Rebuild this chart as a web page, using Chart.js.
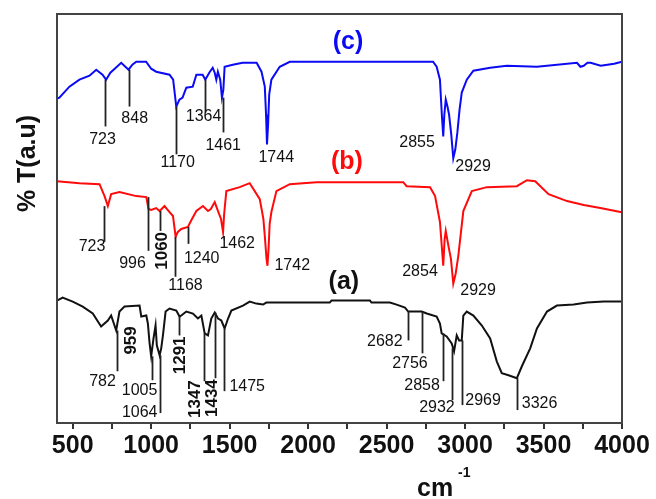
<!DOCTYPE html>
<html>
<head>
    <title>FTIR spectra (a), (b), (c)</title>
    <script src="https://cdn.jsdelivr.net/npm/chart.js"></script>
    <style>
        body { margin: 0; background: #fff; }
    </style>
</head>
<body>
    <canvas id="myChart" width="656" height="499"></canvas>

    <script>
        // spectrum (c), blue - wavenumber (cm-1) and transmittance (a.u.)
        const wnC = [400, 415, 479, 543, 607, 650, 690, 713, 740, 809, 856, 880, 905, 968, 1000, 1032, 1117, 1140, 1160, 1180, 1200, 1224, 1265, 1288, 1328, 1345, 1370, 1392, 1405, 1415, 1425, 1440, 1451, 1460, 1468, 1520, 1583, 1672, 1703, 1724, 1732, 1738, 1745, 1752, 1766, 1819, 1883, 2796, 2819, 2840, 2852, 2861, 2868, 2877, 2888, 2898, 2912, 2925, 2938, 2951, 2965, 2979, 3011, 3053, 3160, 3266, 3458, 3713, 3735, 3756, 3780, 3800, 3864, 3907, 3950, 4000];
        const tC = [326, 327, 338, 345, 349, 355, 350, 345, 352, 362, 355, 360, 363, 363, 356, 353, 350, 345, 318, 325, 327, 337, 338, 350, 350, 345, 352, 357, 352, 345, 353, 345, 327, 335, 358, 360, 362, 362, 353, 338, 310, 280, 300, 330, 345, 358, 363, 363, 358, 345, 310, 288, 310, 325, 318, 310, 290, 266, 275, 292, 315, 332, 345, 354, 357, 359, 358, 362, 358, 359, 362, 362, 359, 360, 361, 363];

        // spectrum (b), red
        const wnB = [400, 543, 671, 703, 724, 745, 798, 905, 969, 983, 1000, 1032, 1054, 1085, 1117, 1139, 1156, 1170, 1192, 1234, 1260, 1288, 1330, 1362, 1380, 1405, 1426, 1445, 1458, 1465, 1479, 1564, 1628, 1692, 1715, 1724, 1735, 1741, 1748, 1755, 1766, 1798, 1883, 2054, 2606, 2628, 2777, 2809, 2840, 2861, 2870, 2877, 2894, 2910, 2925, 2940, 2957, 2989, 3043, 3139, 3330, 3394, 3447, 3532, 3650, 3756, 3862, 3990, 4000];
        const tB = [243, 241, 240, 228, 218, 230, 232, 228, 227, 215, 214, 216, 213, 218, 212, 208, 187, 192, 195, 197, 205, 213, 218, 213, 215, 222, 213, 205, 192, 210, 233, 237, 241, 225, 205, 188, 165, 158, 175, 200, 212, 233, 240, 242, 242, 238, 237, 228, 202, 158, 185, 193, 178, 165, 140, 150, 168, 213, 233, 237, 238, 244, 243, 230, 223, 219, 216, 212, 212];

        // spectrum (a), black
        const wnA = [400, 436, 500, 564, 628, 681, 724, 745, 777, 798, 830, 926, 937, 969, 979, 990, 1000, 1015, 1028, 1036, 1054, 1064, 1075, 1092, 1117, 1160, 1181, 1192, 1224, 1266, 1298, 1320, 1341, 1362, 1383, 1405, 1426, 1447, 1468, 1490, 1511, 1585, 1628, 1670, 1713, 1734, 2138, 2149, 2394, 2404, 2521, 2564, 2617, 2638, 2681, 2724, 2756, 2819, 2840, 2851, 2883, 2915, 2930, 2947, 2962, 2979, 2989, 3011, 3053, 3107, 3160, 3202, 3234, 3277, 3330, 3362, 3415, 3458, 3522, 3585, 3692, 3777, 3884, 3990, 4000];
        const tA = [123, 126, 122, 117, 110, 97, 103, 108, 93, 112, 117, 118, 107, 108, 100, 80, 67, 85, 98, 78, 68, 75, 88, 112, 115, 113, 107, 108, 112, 110, 105, 108, 90, 88, 105, 111, 105, 103, 95, 105, 113, 118, 122, 120, 119, 121, 121, 123, 123, 121, 121, 119, 116, 112, 112, 112, 110, 107, 100, 90, 87, 80, 72, 88, 83, 83, 108, 112, 108, 98, 85, 62, 50, 48, 45, 57, 75, 95, 112, 118, 119, 121, 122, 122, 122];

        // peak marker lines: wavenumber, top and bottom of the line (a.u.)
        const markWn  = [709, 856, 1156, 1345, 1458,   698, 983, 1054, 1154, 1234,   784, 1004, 1054, 1175, 1334, 1409, 1462, 2638, 2724, 2858, 2919, 2979, 3334];
        const markTop = [345, 355, 318, 345, 327,   218, 227, 213, 187, 197,   93, 67, 68, 107, 90, 111, 95, 112, 112, 90, 75, 83, 45];
        const markEnd = [298, 318, 270, 312, 292,   182, 173, 193, 147, 180,   52, 43, 10, 88, 42, 45, 32, 83, 70, 42, 23, 18, 13];

        // peak labels: text, wavenumber and height (a.u.) of the label centre, vertical or not
        const peakText = ['723', '848', '1170', '1364', '1461', '1744', '2855', '2929',
                          '723', '996', '1060', '1168', '1240', '1462', '1742', '2854', '2929',
                          '782', '959', '1005', '1064', '1291', '1347', '1434', '1475', '2682', '2756', '2858', '2932', '2969', '3326'];
        const peakWn = [690, 895, 1169, 1334, 1459, 1797, 2694, 3051,
                        623, 881, 1073, 1219, 1322, 1548, 1899, 2713, 3083,
                        690, 876, 926, 927, 1188, 1283, 1392, 1612, 2489, 2649, 2726, 2821, 3115, 3475];
        const peakT = [285, 306, 262, 308, 279, 267, 282, 258,
                       177, 160, 173, 138, 165, 180, 158, 152, 133,
                       42, 83, 33, 10, 68, 24, 25, 37, 82, 60, 38, 15, 23, 20];
        const peakVert = [0, 0, 0, 0, 0, 0, 0, 0,
                          0, 0, 1, 0, 0, 0, 0, 0, 0,
                          0, 1, 0, 0, 1, 1, 1, 0, 0, 0, 0, 0, 0, 0];

        // curve names
        const seriesName = ['(c)', '(b)', '(a)'];
        const seriesColor = ['#0a0af5', '#ff0a0a', '#111111'];
        const seriesWn = [2254, 2247, 2228];
        const seriesT = [383, 262, 142];

        const xTicks = [500, 1000, 1500, 2000, 2500, 3000, 3500, 4000];

        function pts(wn, t) {
            return wn.map((x, i) => ({ x: x, y: t[i] }));
        }

        const FONT = '"Liberation Sans", Arial, sans-serif';

        const decor = {
            id: 'decor',
            afterDatasetsDraw(chart) {
                const ctx = chart.ctx;
                const a = chart.chartArea;
                const xs = chart.scales.x;
                const ys = chart.scales.y;
                ctx.save();

                // frame
                ctx.strokeStyle = '#444';
                ctx.lineWidth = 2;
                ctx.strokeRect(a.left, a.top, a.right - a.left, a.bottom - a.top);

                // marker lines
                ctx.strokeStyle = '#222';
                ctx.lineWidth = 1.8;
                markWn.forEach((w, i) => {
                    const px = Math.round(xs.getPixelForValue(w)) + 0.5;
                    ctx.beginPath();
                    ctx.moveTo(px, ys.getPixelForValue(markTop[i]));
                    ctx.lineTo(px, ys.getPixelForValue(markEnd[i]));
                    ctx.stroke();
                });

                // peak labels
                ctx.fillStyle = '#111';
                ctx.textAlign = 'center';
                ctx.textBaseline = 'middle';
                peakText.forEach((txt, i) => {
                    const px = xs.getPixelForValue(peakWn[i]);
                    const py = ys.getPixelForValue(peakT[i]);
                    if (peakVert[i]) {
                        ctx.save();
                        ctx.translate(px, py);
                        ctx.rotate(-Math.PI / 2);
                        ctx.font = 'bold 17px ' + FONT;
                        ctx.fillText(txt, 0, 0);
                        ctx.restore();
                    } else {
                        ctx.font = '16px ' + FONT;
                        ctx.fillText(txt, px, py);
                    }
                });

                // series names
                ctx.font = 'bold 25px ' + FONT;
                seriesName.forEach((s, i) => {
                    ctx.fillStyle = seriesColor[i];
                    ctx.fillText(s, xs.getPixelForValue(seriesWn[i]), ys.getPixelForValue(seriesT[i]));
                });

                // axis titles
                ctx.fillStyle = '#111';
                ctx.save();
                ctx.translate(28, (a.top + a.bottom) / 2 - 55);
                ctx.rotate(-Math.PI / 2);
                ctx.font = 'bold 25px ' + FONT;
                ctx.fillText('% T(a.u)', 0, 0);
                ctx.restore();

                ctx.textAlign = 'left';
                ctx.textBaseline = 'alphabetic';
                ctx.font = 'bold 25px ' + FONT;
                ctx.fillText('cm', 417, 496);
                ctx.font = 'bold 14px ' + FONT;
                ctx.fillText('-1', 458, 477);

                ctx.restore();
            }
        };

        document.addEventListener('DOMContentLoaded', function () {
            const ctx = document.getElementById('myChart').getContext('2d');
            const line = (label, data, color) => ({
                label: label,
                data: data,
                borderColor: color,
                borderWidth: 2,
                pointRadius: 0,
                showLine: true,
                tension: 0,
                fill: false
            });
            new Chart(ctx, {
                type: 'scatter',
                data: {
                    datasets: [
                        line('(c)', pts(wnC, tC), seriesColor[0]),
                        line('(b)', pts(wnB, tB), seriesColor[1]),
                        line('(a)', pts(wnA, tA), seriesColor[2])
                    ]
                },
                options: {
                    responsive: false,
                    animation: false,
                    layout: { padding: { left: 57, right: 34, top: 14, bottom: 36 } },
                    plugins: {
                        legend: { display: false },
                        tooltip: { enabled: false }
                    },
                    scales: {
                        x: {
                            type: 'linear',
                            min: 400,
                            max: 4000,
                            border: { display: true, color: '#444', width: 2 },
                            grid: { drawOnChartArea: false, drawTicks: true, tickLength: 6, color: '#333', lineWidth: 2 },
                            ticks: {
                                stepSize: 250,
                                includeBounds: false,
                                autoSkip: false,
                                maxRotation: 0,
                                padding: 2,
                                color: '#111',
                                font: { size: 25, weight: 'bold', family: FONT },
                                callback: v => xTicks.includes(v) ? String(v) : ''
                            }
                        },
                        y: { display: false, min: 0, max: 411 }
                    }
                },
                plugins: [decor]
            });
        });
    </script>
</body>
</html>
